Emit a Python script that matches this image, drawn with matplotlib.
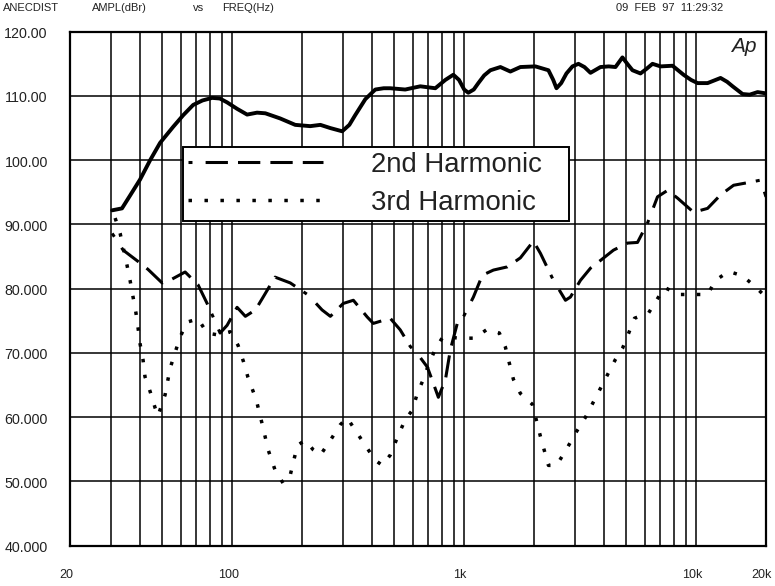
import matplotlib
matplotlib.use('Agg')
import matplotlib.pyplot as plt
import matplotlib.transforms as mtransforms
from matplotlib.lines import Line2D

# ---------------- data ----------------
fund_freq = [30.4, 33.5, 36.3, 40.1, 44.3, 48.9, 55.7, 61.5, 67.9, 74.5, 82.0, 88.5, 95.1, 105, 116, 128, 139, 161, 187,
             217, 240, 265, 298, 320, 339, 375, 414, 450, 480, 557, 647, 751, 830, 898, 950, 1000, 1042, 1100, 1151,
             1220, 1297, 1433, 1582, 1747, 2028, 2308, 2420, 2500, 2620, 2760, 2930, 3109, 3300, 3504, 3869, 4200, 4489, 4811, 5050, 5315,
             5755, 6100, 6483, 7020, 7910, 8822, 9500, 10140, 11200, 12740, 13600, 14360, 15850, 17000, 18400, 20000]
fund_db = [92.2, 92.5, 94.5, 97.0, 100.0, 102.7, 105.2, 107.0, 108.6, 109.3, 109.7, 109.6, 109.0, 108.0, 107.1, 107.4, 107.3, 106.5, 105.5,
           105.3, 105.5, 105.0, 104.5, 105.5, 107.0, 109.5, 111.0, 111.2, 111.2, 111.0, 111.5, 111.2, 112.5, 113.3, 112.5, 111.0, 110.5, 111.0, 112.0,
           113.2, 114.0, 114.5, 113.8, 114.5, 114.6, 114.0, 112.5, 111.2, 112.0, 113.5, 114.6, 115.0, 114.5, 113.6, 114.5, 114.6, 114.5, 116.0, 115.0, 114.0,
           113.5, 114.2, 115.0, 114.6, 114.7, 113.3, 112.5, 112.0, 112.0, 112.8, 112.2, 111.5, 110.3, 110.2, 110.6, 110.4]

h2_freq = [30.4, 33.9, 40.1, 43.4, 49.9, 55.1, 62.7, 71.3, 78.0, 82.8, 88.7, 95.1, 105, 114, 126, 135,
           153, 178, 213, 244, 265, 301, 333, 382, 406, 480, 530, 586, 634, 694, 736, 774, 830,
           872, 934, 992, 1096, 1198, 1337, 1536, 1747, 1988, 2132, 2426, 2733, 2871, 3171, 3504,
           3869, 4401, 5057, 5586, 6168, 6814, 7526, 8312, 9746, 11200, 12740, 14500, 16660, 18960, 20000]
h2_db = [88.6, 86.0, 84.0, 83.0, 80.9, 81.5, 82.6, 80.6, 77.7, 75.6, 73.1, 74.3, 77.1, 75.7, 76.7, 78.5,
         81.8, 80.9, 79.0, 76.7, 75.7, 77.7, 78.2, 75.6, 74.6, 75.4, 73.6, 71.0, 69.7, 67.8, 65.3, 63.1, 65.8,
         70.5, 74.6, 75.6, 78.7, 82.1, 82.9, 83.4, 84.8, 87.4, 85.5, 81.3, 78.2, 78.7, 81.3, 83.2,
         84.4, 86.0, 87.1, 87.2, 90.2, 94.3, 95.3, 94.1, 91.9, 92.5, 94.6, 96.1, 96.5, 96.9, 94.3]

h3_freq = [31.3, 32.9, 35.2, 36.3, 37.4, 38.5, 39.3, 40.1, 41.3, 42.1, 44.3, 46.5, 47.9, 51.4, 54.0,
           56.8, 59.7, 63.9, 71.3, 78.0, 87.0, 98.0, 106, 112, 117, 127, 135, 143, 153, 166, 178,
           191, 206, 224, 240, 265, 292, 313, 339, 375, 414, 444, 480, 520, 557, 598, 628, 667,
           701, 751, 813, 944, 1107, 1259, 1418, 1506, 1566, 1630, 1747, 1968, 2132, 2308, 2500,
           2760, 3018, 3334, 3682, 4065, 4489, 4811, 5107, 5423, 6230, 6748, 7304, 8395, 9746,
           11200, 12120, 13800, 15850, 17860, 20000]
h3_db = [91.0, 88.6, 83.7, 81.3, 78.7, 76.2, 73.9, 71.4, 68.9, 66.3, 64.0, 61.5, 60.2, 63.5, 67.6,
         70.1, 72.5, 74.8, 75.3, 73.1, 72.8, 73.3, 71.2, 68.6, 66.2, 62.7, 58.8, 54.9, 51.8, 49.7, 51.0,
         55.6, 56.4, 54.9, 54.1, 56.4, 58.8, 59.9, 58.0, 55.6, 53.3, 52.5, 54.1, 57.2, 59.6, 61.1, 63.7, 65.9,
         68.1, 70.6, 72.6, 72.3, 72.3, 73.7, 73.1, 70.9, 68.4, 65.9, 63.7, 62.0, 57.0, 52.5, 52.5,
         55.0, 57.5, 60.0, 63.0, 66.0, 69.0, 70.7, 73.0, 75.4, 76.2, 78.2, 80.2, 79.1, 79.1,
         79.1, 81.3, 82.7, 82.0, 80.4, 78.7]

y_ticks = [40, 50, 60, 70, 80, 90, 100, 110, 120]
y_tick_labels = ["40.000", "50.000", "60.000", "70.000", "80.000", "90.000", "100.00", "110.00", "120.00"]
x_ticks = [20, 100, 1000, 10000, 20000]
x_tick_labels = ["20", "100", "1k", "10k", "20k"]
x_grid = [30, 40, 50, 60, 70, 80, 90,
          200, 300, 400, 500, 600, 700, 800, 900,
          2000, 3000, 4000, 5000, 6000, 7000, 8000, 9000]

series_labels = ["2nd Harmonic", "3rd Harmonic"]

# ---------------- styles ----------------
plt.rcParams['font.family'] = ['Liberation Sans', 'DejaVu Sans']
h2_style = (0, (1.3, 4.3, 7.3, 3.3, 7.3, 3.3, 7.3, 3.3, 7.3, 3.3))
h3_style = (0, (1.0, 3.6))

W, H = 775, 586
fig = plt.figure(figsize=(W / 100, H / 100), dpi=100)
ax_l, ax_r, ax_t, ax_b = 70, 766, 31.7, 545.7
ax = fig.add_axes([ax_l / W, (H - ax_b) / H, (ax_r - ax_l) / W, (ax_b - ax_t) / H])

ax.set_xscale('log')
ax.set_xlim(20, 20000)
ax.set_ylim(40, 120)

ax.set_xticks(x_ticks)
ax.set_xticklabels(x_tick_labels)
ax.set_xticks(x_grid, minor=True)
ax.xaxis.set_minor_formatter(matplotlib.ticker.NullFormatter())
ax.set_yticks(y_ticks)
ax.set_yticklabels(y_tick_labels)
ax.tick_params(which='both', length=0)
ax.tick_params(axis='x', pad=17, labelsize=9, labelcolor='#222222')
ax.tick_params(axis='y', pad=16, labelsize=10.3, labelcolor='#222222')
shift = mtransforms.ScaledTranslation(-4 / 100, 0, fig.dpi_scale_trans)
for lab in ax.get_xticklabels():
    lab.set_transform(lab.get_transform() + shift)
yshift = mtransforms.ScaledTranslation(0, -1 / 100, fig.dpi_scale_trans)
for lab in ax.get_yticklabels():
    lab.set_transform(lab.get_transform() + yshift)

ax.grid(True, which='both', axis='x', color='black', linewidth=1.1)
ax.grid(True, which='major', axis='y', color='black', linewidth=1.1)
ax.set_axisbelow(True)
for s in ax.spines.values():
    s.set_linewidth(1.6)
    s.set_color('black')

ax.plot(fund_freq, fund_db, color='black', linewidth=2.8, solid_capstyle='round',
        solid_joinstyle='round', zorder=3)
ax.plot(h2_freq, h2_db, color='black', linewidth=2.2, linestyle=h2_style, zorder=3)
ax.plot(h3_freq, h3_db, color='black', linewidth=2.5, linestyle=h3_style, zorder=3)

handles = [Line2D([], [], color='black', linewidth=2.2, linestyle=h2_style),
           Line2D([], [], color='black', linewidth=2.5, linestyle=h3_style)]
lx0 = (183 - ax_l) / (ax_r - ax_l)
lx1 = (569 - ax_l) / (ax_r - ax_l)
ly0 = (ax_b - 219) / (ax_b - ax_t)
ly1 = (ax_b - 147) / (ax_b - ax_t)
leg = ax.legend(handles, series_labels, loc='upper left', mode='expand',
                bbox_to_anchor=(lx0, ly0, lx1 - lx0, ly1 - ly0),
                borderaxespad=0, fontsize=19.8, handlelength=4.9, handletextpad=1.75,
                borderpad=0.18, labelspacing=0.44, fancybox=False, framealpha=1,
                edgecolor='black', facecolor='white')
leg.get_frame().set_linewidth(1.4)
leg.set_zorder(5)
for t in leg.get_texts():
    t.set_color('#222222')

# header texts
hdr_kw = dict(fontsize=8, color='#222222', va='center', ha='left')
fig.text(3 / W, 1 - 8 / H, "ANECDIST", **hdr_kw)
fig.text(92 / W, 1 - 8 / H, "AMPL(dBr)", **hdr_kw)
fig.text(193 / W, 1 - 8 / H, "vs", **hdr_kw)
fig.text(222 / W, 1 - 8 / H, "FREQ(Hz)", **hdr_kw)
fig.text(616 / W, 1 - 8 / H, "09  FEB  97  11:29:32", **hdr_kw)

fig.text(744 / W, 1 - 47 / H, "Ap", fontsize=15, style='italic', ha='center', va='center',
         color='#222222')

fig.savefig('out.png', dpi=100)
